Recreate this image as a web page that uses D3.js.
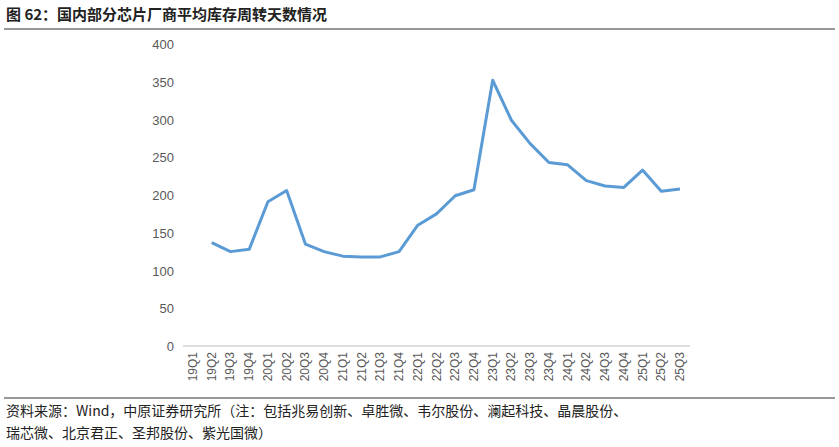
<!DOCTYPE html>
<html><head><meta charset="utf-8">
<script src="https://cdn.jsdelivr.net/npm/d3@7"></script>
<style>body{margin:0;background:#fff;font-family:"Noto Sans CJK SC",sans-serif;}</style>
</head><body><div id="chart"></div>
<script>
var quarters = ["19Q1","19Q2","19Q3","19Q4","20Q1","20Q2","20Q3","20Q4","21Q1","21Q2","21Q3","21Q4",
  "22Q1","22Q2","22Q3","22Q4","23Q1","23Q2","23Q3","23Q4","24Q1","24Q2","24Q3","24Q4","25Q1","25Q2","25Q3"];
var days = [null,137,125,128,191,206,135,125,119,118,118,125,160,175,199,207,352,299,268,243,240,219,212,210,233,205,208];
var yTicks = [0,50,100,150,200,250,300,350,400];

var width = 839, height = 447;
var svg = d3.select("#chart").append("svg").attr("width", width).attr("height", height);

svg.append("text").attr("x", 6).attr("y", 20).attr("font-size", 15).attr("font-weight", "bold")
   .attr("fill", "#222").text("图 62：国内部分芯片厂商平均库存周转天数情况");
svg.append("line").attr("x1", 4).attr("x2", 835).attr("y1", 29).attr("y2", 29)
   .attr("stroke", "#333").attr("stroke-width", 1);

var x = d3.scalePoint().domain(quarters).range([193, 680]);
var y = d3.scaleLinear().domain([0, 400]).range([346, 44]);

// y labels
svg.selectAll(".yl").data(yTicks).enter().append("text")
   .attr("x", 174).attr("y", function (d) { return y(d) + 5; })
   .attr("text-anchor", "end").attr("font-size", 13).attr("fill", "#595959")
   .attr("font-family", "Liberation Sans, Arial").text(function (d) { return d; });

svg.append("line").attr("x1", 183).attr("x2", 690).attr("y1", y(0)).attr("y2", y(0))
   .attr("stroke", "#bfbfbf");

svg.selectAll(".xl").data(quarters).enter().append("text")
   .attr("transform", function (d) { return "translate(" + (x(d) + 4) + "," + 352 + ") rotate(-90)"; })
   .attr("text-anchor", "end").attr("font-size", 12).attr("fill", "#595959")
   .attr("font-family", "Liberation Sans, Arial").text(function (d) { return d; });

var line = d3.line().defined(function (d) { return d != null; })
   .x(function (d, i) { return x(quarters[i]); }).y(function (d) { return y(d); });
svg.append("path").datum(days).attr("d", line).attr("fill", "none")
   .attr("stroke", "#5b9bd5").attr("stroke-width", 3).attr("stroke-linejoin", "round");

svg.append("line").attr("x1", 4).attr("x2", 835).attr("y1", 398).attr("y2", 398)
   .attr("stroke", "#333").attr("stroke-width", 1);
svg.append("text").attr("x", 6).attr("y", 416).attr("font-size", 14).attr("fill", "#222")
   .text("资料来源：Wind，中原证券研究所（注：包括兆易创新、卓胜微、韦尔股份、澜起科技、晶晨股份、");
svg.append("text").attr("x", 6).attr("y", 438).attr("font-size", 14).attr("fill", "#222")
   .text("瑞芯微、北京君正、圣邦股份、紫光国微）");
</script></body></html>
